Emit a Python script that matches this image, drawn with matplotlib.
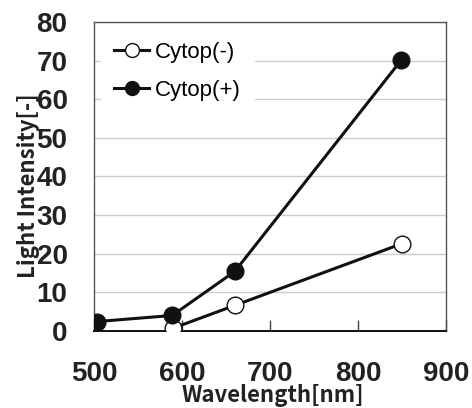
import matplotlib.pyplot as plt

wavelength_minus = [590, 660, 850]
intensity_minus = [0.7, 6.6, 22.6]
wavelength_plus = [503, 589, 660, 849]
intensity_plus = [2.4, 4.0, 15.4, 70.1]

xticks = [500, 600, 700, 800, 900]
yticks = [0, 10, 20, 30, 40, 50, 60, 70, 80]

fig = plt.figure(figsize=(4.72, 4.08), dpi=100)
ax = fig.add_axes([0.199, 0.189, 0.746, 0.757])

ax.plot(wavelength_minus, intensity_minus, '-o', color='#111111', lw=2.2,
        ms=12, mfc='white', mec='#111111', mew=1.0, label='Cytop(-)', zorder=3)
ax.plot(wavelength_plus, intensity_plus, '-o', color='#111111', lw=2.2,
        ms=12, mfc='#111111', mec='#111111', label='Cytop(+)', zorder=4)

ax.set_xlim(500, 900)
ax.set_ylim(0, 80)
ax.set_xticks(xticks)
ax.set_yticks(yticks)
ax.yaxis.grid(True, color='#cccccc', lw=1)
ax.set_axisbelow(True)

for s in ['top', 'left', 'right']:
    ax.spines[s].set_color('#555555')
    ax.spines[s].set_linewidth(1)
ax.spines['bottom'].set_color('#111111')
ax.spines['bottom'].set_linewidth(1.4)

ax.tick_params(axis='x', direction='in', length=8, width=1, color='#444444', pad=22)
ax.tick_params(axis='y', length=0, pad=19)
for lab in ax.get_xticklabels() + ax.get_yticklabels():
    lab.set_fontfamily('Liberation Sans')
    lab.set_fontweight('bold')
    lab.set_fontsize(20)
    lab.set_color('#222222')

ax.set_xlabel('Wavelength[nm]', fontfamily='Noto Sans CJK JP', fontweight='bold',
              fontsize=16, color='#222222', va='center')
ax.xaxis.set_label_coords(0.508, -0.21)
ax.set_ylabel('Light Intensity[-]', fontfamily='Noto Sans CJK JP', fontweight='bold',
              fontsize=16, color='#222222', va='center')
ax.yaxis.set_label_coords(-0.185, 0.47)

leg = ax.legend(loc='upper left', bbox_to_anchor=(0.0, 1.0), frameon=True,
                prop={'family': 'Liberation Sans', 'size': 16},
                handlelength=1.6, handletextpad=0.25, labelspacing=0.75,
                borderaxespad=0.3, borderpad=0.6, fancybox=False)
leg.get_frame().set_edgecolor('white')
leg.get_frame().set_facecolor('white')
leg.get_frame().set_alpha(1)
for h in leg.legend_handles:
    h.set_markersize(10)

fig.savefig('out.png', dpi=100)
